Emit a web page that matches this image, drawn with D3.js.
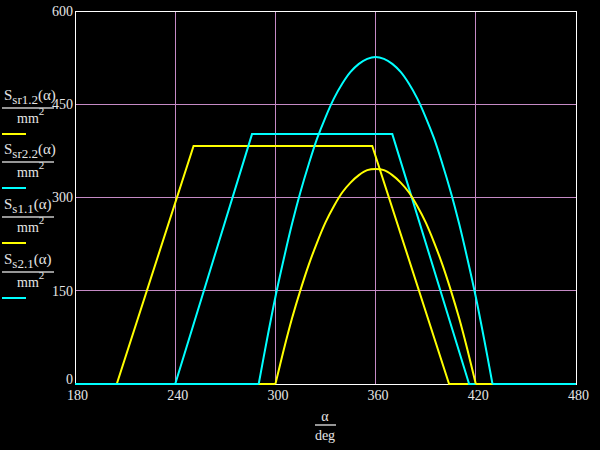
<!DOCTYPE html>
<html><head><meta charset="utf-8">
<script src="https://cdn.jsdelivr.net/npm/d3@7"></script>
<style>html,body{margin:0;padding:0;background:#000;}svg{display:block;}</style>
</head><body>
<script>
// ---- data ----
const xTicks = [180, 240, 300, 360, 420, 480];
const yTicks = [0, 150, 300, 450, 600];

// S_sr1.2 (yellow trapezoid)
const sr12Alpha = [180, 205, 251, 358, 404, 480];
const sr12Value = [0, 0, 383, 383, 0, 0];

// S_sr2.2 (cyan trapezoid)
const sr22Alpha = [180, 240, 286, 370, 416, 480];
const sr22Value = [0, 0, 402, 402, 0, 0];

// S_s1.1 (yellow arch)
const s11Alpha = [180, 300, 305, 310, 315, 320, 325, 330, 335, 340, 345, 350, 355, 360,
                  365, 370, 375, 380, 385, 390, 395, 400, 405, 410, 415, 420, 480];
const s11Value = [0, 0, 55, 106, 151, 192, 228, 260, 286, 308, 324, 336, 344, 346,
                  344, 336, 324, 308, 286, 260, 228, 192, 151, 106, 55, 0, 0];

// S_s2.1 (cyan arch)
const s21Alpha = [180, 290, 295, 300, 305, 310, 315, 320, 325, 330, 335, 340, 345, 350, 355, 360,
                  365, 370, 375, 380, 385, 390, 395, 400, 405, 410, 415, 420, 425, 430, 480];
const s21Value = [0, 0, 72, 140, 201, 258, 309, 354, 395, 429, 459, 483, 502, 515, 523, 526,
                  523, 515, 502, 483, 459, 429, 395, 354, 309, 258, 201, 140, 72, 0, 0];

const seriesNames = ["sr1.2", "sr2.2", "s1.1", "s2.1"];
const seriesColors = ["#ffff00", "#00ffff", "#ffff00", "#00ffff"];

// ---- drawing ----
const W = 600, H = 450;
const svg = d3.select("body").append("svg").attr("width", W).attr("height", H)
  .style("background", "#000");
svg.append("rect").attr("width", W).attr("height", H).attr("fill", "#000");

const x = d3.scaleLinear().domain([180, 480]).range([75, 576]);
const y = d3.scaleLinear().domain([0, 600]).range([384, 11]);

const gridColor = "#c58ac5";
const textColor = "#e6e6e6";
const font = "'Liberation Serif', 'Times New Roman', serif";

// grid
svg.append("g").selectAll("line.v").data(xTicks.slice(1, -1)).join("line")
  .attr("x1", d => x(d)).attr("x2", d => x(d)).attr("y1", y(0)).attr("y2", y(600))
  .attr("stroke", gridColor).attr("stroke-width", 1).attr("shape-rendering", "crispEdges");
svg.append("g").selectAll("line.h").data(yTicks.slice(1, -1)).join("line")
  .attr("x1", x(180)).attr("x2", x(480)).attr("y1", d => y(d)).attr("y2", d => y(d))
  .attr("stroke", gridColor).attr("stroke-width", 1).attr("shape-rendering", "crispEdges");

// frame
svg.append("rect").attr("x", x(180)).attr("y", y(600))
  .attr("width", x(480) - x(180)).attr("height", y(0) - y(600))
  .attr("fill", "none").attr("stroke", "#ffffff").attr("stroke-width", 1)
  .attr("shape-rendering", "crispEdges");

// axes (labels only, via d3 axes)
const xAxis = d3.axisBottom(x).tickValues(xTicks).tickSize(0).tickPadding(6).tickFormat(d3.format("d"));
const gx = svg.append("g").attr("transform", `translate(0,${y(0)})`).call(xAxis);
gx.select(".domain").remove();
gx.selectAll("text").attr("fill", textColor).style("font-family", font).style("font-size", "14px")
  .attr("dx", "2");

const yAxis = d3.axisLeft(y).tickValues(yTicks).tickSize(0).tickPadding(2).tickFormat(d3.format("d"));
const gy = svg.append("g").attr("transform", `translate(${x(180)},0)`).call(yAxis);
gy.select(".domain").remove();
gy.selectAll("text").attr("fill", textColor).style("font-family", font).style("font-size", "14px")
  .attr("dy", d => d === 0 ? "-0.05em" : "0.32em");

// series
function drawSeries(alpha, vals, color, smooth) {
  const pts = alpha.map((a, i) => [a, vals[i]]);
  const lineLin = d3.line().x(d => x(d[0])).y(d => y(d[1]));
  if (!smooth) {
    svg.append("path").attr("d", lineLin(pts)).attr("fill", "none")
      .attr("stroke", color).attr("stroke-width", 2).attr("stroke-linejoin", "miter");
    return;
  }
  // flat parts linear, arch smooth
  const first = 1, last = pts.length - 2;
  svg.append("path").attr("d", lineLin(pts.slice(0, first + 1))).attr("fill", "none")
    .attr("stroke", color).attr("stroke-width", 2);
  svg.append("path").attr("d", lineLin(pts.slice(last))).attr("fill", "none")
    .attr("stroke", color).attr("stroke-width", 2);
  const lineSm = d3.line().x(d => x(d[0])).y(d => y(d[1])).curve(d3.curveCatmullRom.alpha(0.5));
  svg.append("path").attr("d", lineSm(pts.slice(first, last + 1))).attr("fill", "none")
    .attr("stroke", color).attr("stroke-width", 2);
}
drawSeries(sr12Alpha, sr12Value, seriesColors[0], false);
drawSeries(sr22Alpha, sr22Value, seriesColors[1], false);
drawSeries(s11Alpha, s11Value, seriesColors[2], true);
drawSeries(s21Alpha, s21Value, seriesColors[3], true);

// left legend / y-axis labels (Mathcad style)
const legTop = [100, 154, 209, 264];
seriesNames.forEach((name, i) => {
  const g = svg.append("g").attr("transform", `translate(0,${legTop[i]})`);
  const t = g.append("text").attr("x", 4).attr("y", 0).attr("fill", textColor)
    .style("font-family", font).style("font-size", "15px");
  t.append("tspan").text("S");
  t.append("tspan").attr("dy", 4).style("font-size", "13px").text(name);
  t.append("tspan").attr("dy", -4).text("(α)");
  g.append("line").attr("x1", 2).attr("x2", 54).attr("y1", 8).attr("y2", 8)
    .attr("stroke", "#c8c8c8").attr("stroke-width", 1.5);
  const m = g.append("text").attr("x", 17).attr("y", 23).attr("fill", textColor)
    .style("font-family", font).style("font-size", "14px");
  m.append("tspan").text("mm");
  m.append("tspan").attr("dy", -8).style("font-size", "11px").text("2");
  g.append("line").attr("x1", 2).attr("x2", 26).attr("y1", 34).attr("y2", 34)
    .attr("stroke", seriesColors[i]).attr("stroke-width", 2);
});

// x-axis title
const xt = svg.append("g");
xt.append("text").attr("x", 325).attr("y", 421).attr("text-anchor", "middle")
  .attr("fill", textColor).style("font-family", font).style("font-size", "14px").text("α");
xt.append("line").attr("x1", 315).attr("x2", 336).attr("y1", 425).attr("y2", 425)
  .attr("stroke", "#c8c8c8").attr("stroke-width", 1.5);
xt.append("text").attr("x", 325).attr("y", 440).attr("text-anchor", "middle")
  .attr("fill", textColor).style("font-family", font).style("font-size", "14px").text("deg");
</script>
</body></html>
